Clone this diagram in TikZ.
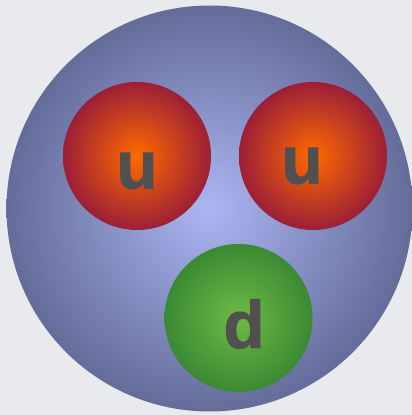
\documentclass[tikz,border=0pt]{standalone}
\usepackage{fontspec}
\setmainfont{Liberation Sans}
\newfontfamily\quarkfont{Liberation Sans}[BoldFeatures={FakeBold=1.6}]
\usetikzlibrary{calc, positioning}
\definecolor{backdrop}{HTML}{E8EAEE}
\definecolor{protonin}{HTML}{ACB6F2}
\definecolor{protonout}{HTML}{646C99}
\definecolor{upin}{HTML}{FF6A00}
\definecolor{upout}{HTML}{9C1F36}
\definecolor{downin}{HTML}{6FBA44}
\definecolor{downout}{HTML}{3A8A34}
\definecolor{flavourtext}{HTML}{505050}
\tikzset{
  particle/.style n args={3}{
    circle, minimum size=#1, inner sep=0pt,
    shading=radial, inner color=#2, outer color=#3
  },
  flavour/.style={
    inner sep=0pt, text=flavourtext,
    font=\quarkfont\fontsize{67}{67}\selectfont\bfseries
  }
}
\begin{document}
\begin{tikzpicture}[x=1pt, y=1pt]

  % Backdrop
  \useasboundingbox (0,0) rectangle (412,415);
  \fill[backdrop] (0,0) rectangle (412,415);

  % Proton
  \node[particle={406pt}{protonin}{protonout}] (proton) at (209.5,206.5) {};

  % Quarks
  \node[particle={148pt}{upin}{upout}] (upleft) at (137,259) {};
  \node[particle={148pt}{upin}{upout}] (upright) at (313,259) {};
  \node[particle={148pt}{downin}{downout}] (down) at (238.5,97) {};

  % Labels
  \node[flavour] (upleftlabel) at ($(upleft)+(0,-15)$) {u};
  \node[flavour] (uprightlabel) at ($(upright)+(-11,-10)$) {u};
  \node[flavour] (downlabel) at ($(down)+(5.5,-6)$) {d};

\end{tikzpicture}
\end{document}
